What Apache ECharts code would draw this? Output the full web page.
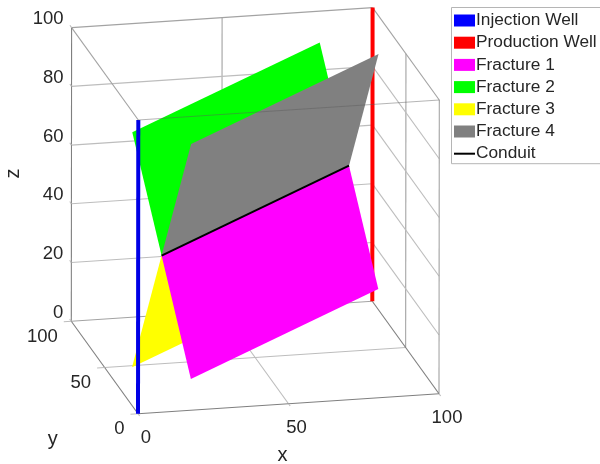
<!DOCTYPE html>
<html><head><meta charset="utf-8">
<style>html,body{margin:0;padding:0;background:#fff}#c{width:600px;height:464px}</style>
<script src="https://cdn.jsdelivr.net/npm/echarts@6/dist/echarts.min.js"></script>
</head><body><div id="c"></div>
<script>
// ---- data (x, y, z in axis units) ----
const xTicks = [0, 50, 100];
const yTicks = [0, 50, 100];
const zTicks = [0, 20, 40, 60, 80, 100];
const injectionWell = [[0, 0, 0], [0, 0, 100]];
const productionWell = [[100, 100, 0], [100, 100, 100]];
const fracture1 = [[10, 10, 50], [90, 90, 50], [98, 82, 10], [18, 2, 10]];
const fracture2 = [[10, 10, 50], [90, 90, 50], [82, 98, 90], [2, 18, 90]];
const fracture3 = [[10, 10, 50], [90, 90, 50], [82, 98, 10], [2, 18, 10]];
const fracture4 = [[10, 10, 50], [90, 90, 50], [98, 82, 90], [18, 2, 90]];
const conduit = [[10, 10, 50], [90, 90, 50]];

// ---- view: the orthographic camera of the 3D box ----
const origin = [138, 413.7];
const ux = [3.01, -0.2], uy = [-0.667, -0.924], uz = [0.003, -2.937];
const project = p => [
  origin[0] + p[0] * ux[0] + p[1] * uy[0] + p[2] * uz[0],
  origin[1] + p[0] * ux[1] + p[1] * uy[1] + p[2] * uz[1]
];

const FONT = '"Liberation Sans", Arial, sans-serif';
const AXIS = '#7f7f7f', EDGE = '#a3a3a3', GRID = '#bdbdbd', TEXT = '#262626';

// ---- segments of the box, grid and ticks ----
const seg = (a, b, color) => ({ a, b, color });
const backSegs = [];
xTicks.slice(1, -1).forEach(x => {
  backSegs.push(seg([x, 0, 0], [x, 100, 0], GRID), seg([x, 100, 0], [x, 100, 100], EDGE));
});
yTicks.slice(1, -1).forEach(y => {
  backSegs.push(seg([0, y, 0], [100, y, 0], GRID), seg([100, y, 0], [100, y, 100], EDGE));
});
zTicks.slice(1, -1).forEach(z => {
  backSegs.push(seg([0, 100, z], [100, 100, z], GRID), seg([100, 100, z], [100, 0, z], GRID));
});
backSegs.push(
  seg([0, 100, 100], [100, 100, 100], EDGE), seg([0, 100, 100], [0, 0, 100], EDGE),
  seg([100, 100, 100], [100, 0, 100], EDGE), seg([100, 0, 0], [100, 0, 100], EDGE),
  seg([0, 100, 0], [0, 100, 100], AXIS), seg([0, 100, 0], [100, 100, 0], EDGE),
  seg([100, 100, 0], [100, 0, 0], AXIS), seg([0, 0, 0], [100, 0, 0], AXIS),
  seg([0, 0, 0], [0, 100, 0], AXIS)
);
xTicks.forEach(x => backSegs.push(seg([x, 0, 0], [x, -2.5, 0], GRID)));
yTicks.forEach(y => backSegs.push(seg([0, y, 0], [-2.5, y, 0], GRID)));
zTicks.forEach(z => backSegs.push(seg([0, 100, z], [0, 102.5, z], GRID)));
const frontSegs = [seg([0, 0, 100], [100, 0, 100], 'rgba(90,90,90,0.45)')];

// ---- helpers drawing through the chart's own axes ----
const segSeries = (segs, z) => ({
  type: 'custom', silent: true, z, coordinateSystem: 'cartesian2d',
  data: segs.map(s => [...project(s.a), ...project(s.b)]),
  renderItem: (p, api) => {
    const a = api.coord([api.value(0), api.value(1)]);
    const b = api.coord([api.value(2), api.value(3)]);
    return { type: 'line', shape: { x1: a[0], y1: a[1], x2: b[0], y2: b[1] },
      style: { stroke: segs[p.dataIndex].color, lineWidth: 1.1 } };
  }
});
const polySeries = (name, pts, color, z) => ({
  type: 'custom', name, z, coordinateSystem: 'cartesian2d',
  itemStyle: { color },
  data: [pts.flatMap(project)],
  renderItem: (p, api) => ({
    type: 'polygon',
    shape: { points: pts.map((_, i) => api.coord([api.value(2 * i), api.value(2 * i + 1)])) },
    style: { fill: color }
  })
});
const lineSeries = (name, pts, color, width, z) => ({
  type: 'line', name, z, symbol: 'none', silent: true,
  data: pts.map(project), itemStyle: { color },
  lineStyle: { color, width, cap: 'butt' }
});
const textSeries = (items) => ({
  type: 'custom', silent: true, z: 20, coordinateSystem: 'cartesian2d',
  data: items.map(t => [t.pos[0], t.pos[1]]),
  renderItem: (p, api) => {
    const t = items[p.dataIndex];
    const c = api.coord([api.value(0), api.value(1)]);
    return { type: 'text', x: c[0] + t.dx, y: c[1] + t.dy, rotation: t.rot || 0,
      style: { text: t.text, font: (t.size || 18.5) + 'px ' + FONT, fill: TEXT,
        align: t.align, verticalAlign: 'middle' } };
  }
});

const labels = [
  ...xTicks.map(v => ({ text: String(v), pos: project([v, 0, 0]), dx: 8, dy: 24.5, align: 'center' })),
  ...yTicks.map(v => ({ text: String(v), pos: project([0, v, 0]), dx: -13.5, dy: 15.5, align: 'right' })),
  ...zTicks.map(v => ({ text: String(v), pos: project([0, 100, v]), dx: -8, dy: -8.5, align: 'right' })),
  { text: 'x', pos: project([50, 0, 0]), dx: -6, dy: 52, align: 'center', size: 20 },
  { text: 'y', pos: project([0, 50, 0]), dx: -52, dy: 71.5, align: 'center', size: 20 },
  { text: 'z', pos: project([0, 100, 50]), dx: -58, dy: -1, align: 'center', rot: Math.PI / 2, size: 20 }
];

const chart = echarts.init(document.getElementById('c'), null, { renderer: 'canvas' });
chart.setOption({
  animation: false,
  backgroundColor: '#fff',
  grid: { left: 0, right: 0, top: 0, bottom: 0 },
  xAxis: { type: 'value', min: 0, max: 600, show: false },
  yAxis: { type: 'value', min: 0, max: 464, inverse: true, show: false },
  legend: {
    orient: 'vertical', left: 451.5, top: 7.5, padding: [4, 8, 1, 1.5],
    itemWidth: 21, itemHeight: 12, itemGap: 4.2, selectedMode: false,
    borderColor: '#b5b5b5', borderWidth: 1, backgroundColor: '#fff',
    textStyle: { fontFamily: FONT, fontSize: 17.3, color: TEXT, padding: [0, 0, 0, -4], lineHeight: 18 },
    data: [
      { name: 'Injection Well', icon: 'rect', itemStyle: { color: '#0000ff' } },
      { name: 'Production Well', icon: 'rect' },
      { name: 'Fracture 1', icon: 'rect' },
      { name: 'Fracture 2', icon: 'rect' },
      { name: 'Fracture 3', icon: 'rect' },
      { name: 'Fracture 4', icon: 'rect' },
      { name: 'Conduit', itemStyle: { opacity: 0 } }
    ]
  },
  series: [
    segSeries(backSegs, 1),
    lineSeries('Production Well', productionWell, '#ff0000', 4, 2),
    polySeries('Fracture 3', fracture3, '#ffff00', 3),
    polySeries('Fracture 2', fracture2, '#00ff00', 4),
    polySeries('Fracture 4', fracture4, '#808080', 5),
    polySeries('Fracture 1', fracture1, '#ff00ff', 6),
    lineSeries('Conduit', conduit, '#000000', 2, 7),
    lineSeries('Injection Well', injectionWell, '#0000e6', 4, 8),
    segSeries(frontSegs, 9),
    textSeries(labels)
  ]
});
</script></body></html>
